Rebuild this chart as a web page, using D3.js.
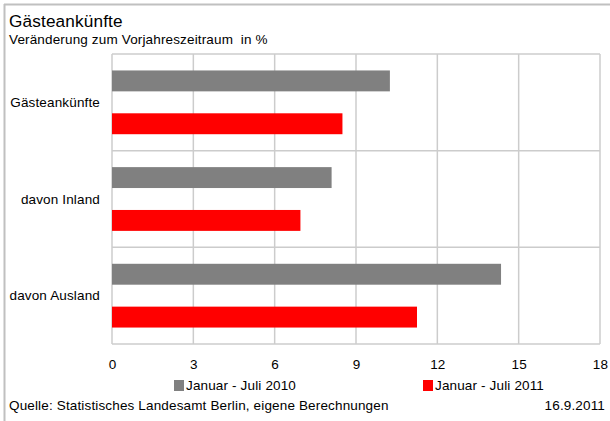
<!DOCTYPE html>
<html><head><meta charset="utf-8">
<script src="https://cdn.jsdelivr.net/npm/d3@7"></script>
<style>body{margin:0;background:#fff}svg{display:block;font-family:"Liberation Sans",Arial,sans-serif;letter-spacing:0.15px}</style>
</head><body><svg id="c" width="610" height="421"></svg>
<script>
const categories = ["Gästeankünfte", "davon Inland", "davon Ausland"];
const seriesNames = ["Januar - Juli 2010", "Januar - Juli 2011"];
const values2010 = [10.25, 8.1, 14.35];
const values2011 = [8.5, 6.95, 11.25];
const xTicks = [0, 3, 6, 9, 12, 15, 18];
const colors = ["#808080", "#ff0000"];

const svg = d3.select("#c");
const W = 610, H = 421;
const m = {l:112, r:600, t:54, b:344};
const fs = 13.5;

// frame
svg.append("line").attr("x1",4).attr("x2",W).attr("y1",4.5).attr("y2",4.5).attr("stroke","#c0c0c0").attr("stroke-width",2);
svg.append("line").attr("x1",4.5).attr("x2",4.5).attr("y1",4).attr("y2",H).attr("stroke","#c0c0c0").attr("stroke-width",2);

svg.append("text").attr("x",9).attr("y",27).attr("font-size",17.2).attr("fill","#000").text("Gästeankünfte");
svg.append("text").attr("x",9).attr("y",44).attr("font-size",fs).attr("fill","#000").style("white-space","pre").text("Veränderung zum Vorjahreszeitraum  in %");

const x = d3.scaleLinear().domain([0,18]).range([m.l, m.r]);
const y = d3.scaleBand().domain(categories).range([m.t, m.b]).paddingInner(0).paddingOuter(0);
const yi = d3.scaleBand().domain(seriesNames).range([0, y.bandwidth()]).paddingInner(0.512).paddingOuter(0.384);

// grid
const g = svg.append("g");
g.selectAll("line.v").data(xTicks).join("line")
  .attr("x1",d=>x(d)).attr("x2",d=>x(d)).attr("y1",m.t).attr("y2",m.b)
  .attr("stroke","#cccccc").attr("stroke-width",1.5);
const bounds = categories.map(c=>y(c)).concat([m.b]);
g.selectAll("line.h").data(bounds).join("line")
  .attr("x1",m.l).attr("x2",m.r).attr("y1",d=>d).attr("y2",d=>d)
  .attr("stroke","#cccccc").attr("stroke-width",1.5);

// bars
const data = [];
categories.forEach((c,i)=>{
  data.push({c, s:seriesNames[0], v:values2010[i], col:colors[0]});
  data.push({c, s:seriesNames[1], v:values2011[i], col:colors[1]});
});
svg.append("g").selectAll("rect").data(data).join("rect")
  .attr("x",x(0)).attr("y",d=>y(d.c)+yi(d.s))
  .attr("width",d=>x(d.v)-x(0)).attr("height",yi.bandwidth())
  .attr("fill",d=>d.col);

// category labels
svg.append("g").selectAll("text").data(categories).join("text")
  .attr("x",100).attr("y",d=>y(d)+y.bandwidth()/2).attr("dy","0.35em")
  .attr("text-anchor","end").attr("font-size",fs).attr("fill","#000").text(d=>d);

// x axis
const xAxis = d3.axisBottom(x).tickValues(xTicks).tickSize(0).tickPadding(0).tickFormat(d3.format("d"));
const ax = svg.append("g").attr("transform",`translate(0,${m.b+25})`).call(xAxis);
ax.select(".domain").remove();
ax.selectAll("text").attr("font-size",fs).attr("fill","#000").attr("font-family","Liberation Sans, Arial, sans-serif").attr("dy","0");

// legend
const legX = [174, 423];
seriesNames.forEach((s,i)=>{
  svg.append("rect").attr("x",legX[i]).attr("y",380).attr("width",10).attr("height",11).attr("fill",colors[i]);
  svg.append("text").attr("x",legX[i]+12).attr("y",390).attr("font-size",fs).attr("fill","#000").text(s);
});

svg.append("text").attr("x",9).attr("y",410).attr("font-size",fs).attr("fill","#000").text("Quelle: Statistisches Landesamt Berlin, eigene Berechnungen");
svg.append("text").attr("x",605).attr("y",410).attr("text-anchor","end").attr("font-size",fs).attr("fill","#000").text("16.9.2011");
</script></body></html>
